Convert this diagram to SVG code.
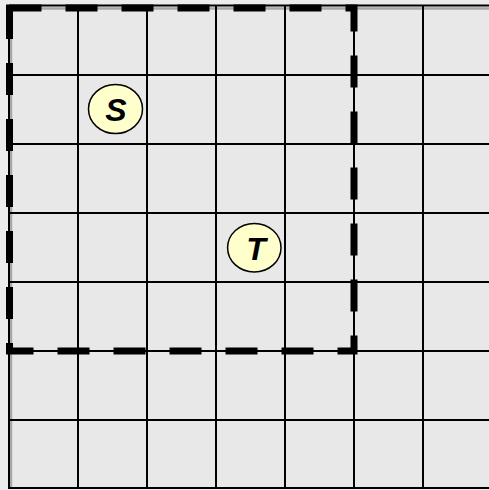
<svg xmlns="http://www.w3.org/2000/svg" width="489" height="490" viewBox="0 0 489 490">
  <style>
    .grid { stroke: #000000; stroke-width: 2; fill: none; }
    .shadow { stroke: #a8a8a8; stroke-width: 2.5; fill: none; }
    .region { stroke: #000000; stroke-width: 7; fill: none; stroke-dasharray: 32 24; }
    .node ellipse { fill: #ffffcc; stroke: #000000; stroke-width: 1.5; }
    .node text { font-family: "Liberation Sans", Arial, sans-serif; font-size: 32px; font-weight: bold; font-style: italic; fill: #000000; text-anchor: middle; }
  </style>
  <rect x="0" y="0" width="489" height="490" fill="#ececec"/>
  <rect x="9" y="6" width="480" height="483" fill="#e8e8e8"/>
  <g id="grid">
    <path class="shadow" d="M11,488 V8.5 H489"/>
    <path class="grid" d="M9,6 V489 M78,6 V489 M147,6 V489 M216,6 V489 M285,6 V489 M354,6 V489 M423,6 V489"/>
    <path class="grid" d="M9,5.5 H489 M9,75 H489 M9,144 H489 M9,213 H489 M9,282 H489 M9,351 H489 M9,420 H489 M9,488 H489"/>
  </g>
  <path id="region" class="region" d="M9.5,8 H354 V351 H9.5 Z"/>
  <g id="connectors"></g>
  <g id="node-S" class="node">
    <ellipse cx="115.5" cy="109" rx="27" ry="24.5"/>
    <text x="116" y="120.5">S</text>
  </g>
  <g id="node-T" class="node">
    <ellipse cx="254.3" cy="247.7" rx="26.7" ry="24.3"/>
    <text x="256" y="259.5">T</text>
  </g>
</svg>
